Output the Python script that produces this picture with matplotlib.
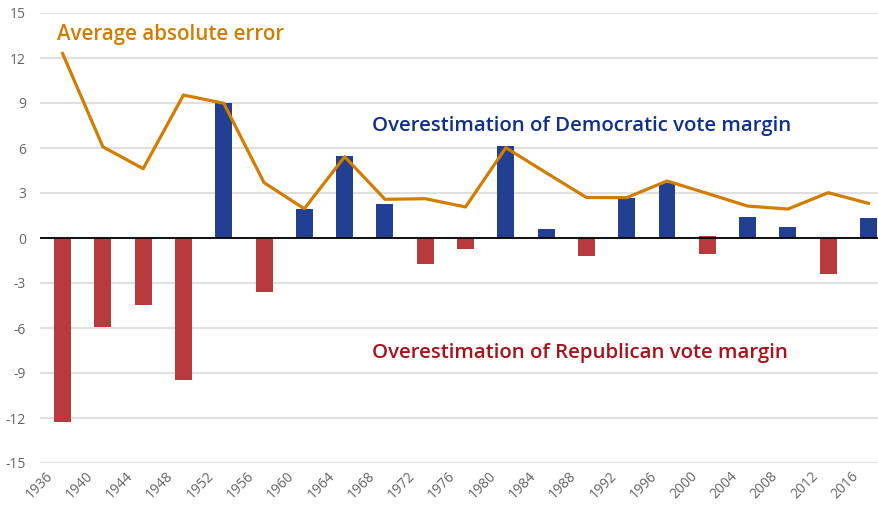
import numpy as np
import matplotlib.pyplot as plt
import matplotlib.transforms as mtransforms

plt.rcParams['font.family'] = ['Open Sans', 'DejaVu Sans']

years = [1936, 1940, 1944, 1948, 1952, 1956, 1960, 1964, 1968, 1972, 1976,
         1980, 1984, 1988, 1992, 1996, 2000, 2004, 2008, 2012, 2016]
# polling error in the margin (positive = Democrats overestimated)
margin_err = [-12.25, -5.9, -4.45, -9.45, 9.0, -3.6, 1.93, 5.5, 2.3, -1.7, -0.72,
              6.15, 0.6, -1.18, 2.68, 3.7, -1.18, 1.4, 0.73, -2.38, 1.33]
# where each bar starts (2000 bar floats slightly above zero)
bar_base = [0, 0, 0, 0, 0, 0, 0, 0, 0, 0, 0,
            0, 0, 0, 0, 0, 0.13, 0, 0, 0, 0]
avg_abs_err = [12.3, 6.08, 4.62, 9.53, 8.98, 3.69, 1.95, 5.42, 2.58, 2.62, 2.07,
               6.02, 4.35, 2.7, 2.69, 3.8, 2.97, 2.13, 1.93, 3.02, 2.31]
yticks = [-15, -12, -9, -6, -3, 0, 3, 6, 9, 12, 15]

blue = '#233f91'
red = '#b83a3d'
orange = '#d27d00'

fig = plt.figure(figsize=(8.79, 5.09), dpi=100)
ax = fig.add_axes([40 / 879, 46 / 509, 839 / 879, 450 / 509])

x = np.arange(len(years))
cols = [blue if v > 0 else red for v in margin_err]
ax.bar(x, margin_err, bottom=bar_base, width=0.42, color=cols, zorder=2)
ax.plot(x, avg_abs_err, color=orange, linewidth=2.3, zorder=3)
ax.axhline(0, color='black', linewidth=1.3, zorder=2.5)

ax.set_xlim(-0.56, 20.26)
ax.set_ylim(-15, 15)
ax.set_yticks(yticks)
ax.set_yticklabels([str(t) for t in yticks])
ax.set_xticks(x)
ax.set_xticklabels([str(y) for y in years], rotation=45, ha='right', va='top')
ax.tick_params(axis='both', length=0, colors='#666666', labelsize=10)
ax.tick_params(axis='y', pad=10)
ax.tick_params(axis='x', pad=4)
offset = mtransforms.ScaledTranslation(-7 / 100, 0, fig.dpi_scale_trans)
for lab in ax.get_xticklabels():
    lab.set_transform(lab.get_transform() + offset)

ax.grid(axis='y', color='#e0e0e0', linewidth=1.5, zorder=0)
ax.set_axisbelow(True)
for s in ax.spines.values():
    s.set_visible(False)

ax.text(-0.14, 13.55, 'Average absolute error', color=orange, fontsize=14.8,
        fontweight='semibold', ha='left', va='center')
ax.text(7.68, 7.5, 'Overestimation of Democratic vote margin', color='#112f8c',
        fontsize=14.7, fontweight='semibold', ha='left', va='center')
ax.text(7.68, -7.65, 'Overestimation of Republican vote margin', color='#a8121b',
        fontsize=14.7, fontweight='semibold', ha='left', va='center')

fig.savefig('out.png', dpi=100)
